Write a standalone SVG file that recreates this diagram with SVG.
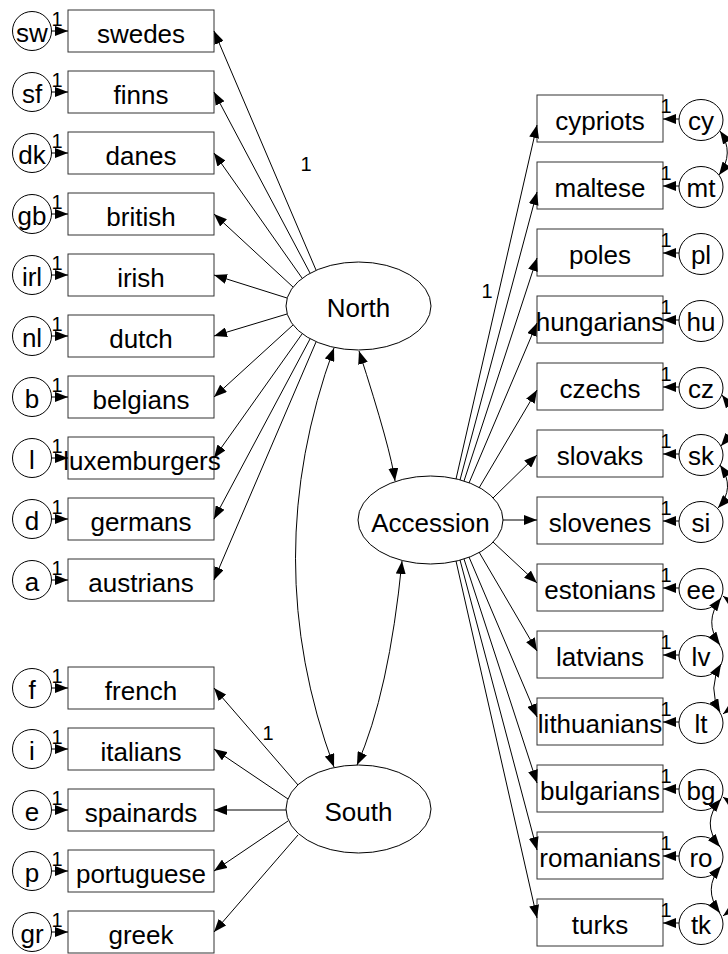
<svg xmlns="http://www.w3.org/2000/svg" width="728" height="954" viewBox="0 0 728 954">
<defs>
<marker id="ah" markerUnits="userSpaceOnUse" markerWidth="14" markerHeight="10" refX="13" refY="5" orient="auto-start-reverse" viewBox="0 0 14 10"><path d="M0,0 L13,5 L0,10 z" fill="#000"/></marker>
</defs>
<style>
.box{fill:#fff;stroke:#333;stroke-width:1}
.err{fill:#fff;stroke:#000;stroke-width:1}
.lat{fill:#fff;stroke:#000;stroke-width:1}
text{font-family:"Liberation Sans",Arial,sans-serif;fill:#000}
.t{font-size:26px;text-anchor:middle}
.n{font-size:20px;text-anchor:middle}
.c{fill:none;stroke:#000;stroke-width:1}
.a{marker-end:url(#ah)}
.b{marker-start:url(#ah);marker-end:url(#ah)}
</style>
<rect width="728" height="954" fill="#fff"/>

<g id="latents">
<g id="North"><ellipse class="lat" cx="358.5" cy="306" rx="72.5" ry="44"/><text class="t" x="358.5" y="317">North</text></g>
<g id="South"><ellipse class="lat" cx="358.5" cy="809" rx="72.5" ry="44"/><text class="t" x="358.5" y="821">South</text></g>
<g id="Accession"><ellipse class="lat" cx="430.5" cy="520" rx="72.5" ry="44"/><text class="t" x="430.5" y="532">Accession</text></g>
</g>

<g id="left-indicators">
<g id="swedes"><rect class="box" x="68" y="10" width="146" height="42"/><text class="t" x="141" y="43">swedes</text></g>
<g id="finns"><rect class="box" x="68" y="71" width="146" height="42"/><text class="t" x="141" y="104">finns</text></g>
<g id="danes"><rect class="box" x="68" y="132" width="146" height="42"/><text class="t" x="141" y="165">danes</text></g>
<g id="british"><rect class="box" x="68" y="193" width="146" height="42"/><text class="t" x="141" y="226">british</text></g>
<g id="irish"><rect class="box" x="68" y="254" width="146" height="42"/><text class="t" x="141" y="287">irish</text></g>
<g id="dutch"><rect class="box" x="68" y="315" width="146" height="42"/><text class="t" x="141" y="348">dutch</text></g>
<g id="belgians"><rect class="box" x="68" y="376" width="146" height="42"/><text class="t" x="141" y="409">belgians</text></g>
<g id="luxemburgers"><rect class="box" x="68" y="437" width="146" height="42"/><text class="t" x="142" y="470">luxemburgers</text></g>
<g id="germans"><rect class="box" x="68" y="498" width="146" height="42"/><text class="t" x="141" y="531">germans</text></g>
<g id="austrians"><rect class="box" x="68" y="559" width="146" height="42"/><text class="t" x="141" y="592">austrians</text></g>
<g id="french"><rect class="box" x="68" y="667" width="146" height="42"/><text class="t" x="141" y="700">french</text></g>
<g id="italians"><rect class="box" x="68" y="728" width="146" height="42"/><text class="t" x="141" y="761">italians</text></g>
<g id="spainards"><rect class="box" x="68" y="789" width="146" height="42"/><text class="t" x="141" y="822">spainards</text></g>
<g id="portuguese"><rect class="box" x="68" y="850" width="146" height="42"/><text class="t" x="141" y="883">portuguese</text></g>
<g id="greek"><rect class="box" x="68" y="911" width="146" height="42"/><text class="t" x="141" y="944">greek</text></g>
</g>

<g id="left-errors">
<g id="e-sw"><circle class="err" cx="32" cy="31" r="19.5"/><text class="t" x="32" y="42">sw</text></g>
<g id="e-sf"><circle class="err" cx="32" cy="92" r="19.5"/><text class="t" x="32" y="103">sf</text></g>
<g id="e-dk"><circle class="err" cx="32" cy="153" r="19.5"/><text class="t" x="32" y="164">dk</text></g>
<g id="e-gb"><circle class="err" cx="32" cy="214" r="19.5"/><text class="t" x="32" y="225">gb</text></g>
<g id="e-irl"><circle class="err" cx="32" cy="275" r="19.5"/><text class="t" x="32" y="286">irl</text></g>
<g id="e-nl"><circle class="err" cx="32" cy="336" r="19.5"/><text class="t" x="32" y="347">nl</text></g>
<g id="e-b"><circle class="err" cx="32" cy="397" r="19.5"/><text class="t" x="32" y="408">b</text></g>
<g id="e-l"><circle class="err" cx="32" cy="458" r="19.5"/><text class="t" x="32" y="469">l</text></g>
<g id="e-d"><circle class="err" cx="32" cy="519" r="19.5"/><text class="t" x="32" y="530">d</text></g>
<g id="e-a"><circle class="err" cx="32" cy="580" r="19.5"/><text class="t" x="32" y="591">a</text></g>
<g id="e-f"><circle class="err" cx="32" cy="688" r="19.5"/><text class="t" x="32" y="699">f</text></g>
<g id="e-i"><circle class="err" cx="32" cy="749" r="19.5"/><text class="t" x="32" y="760">i</text></g>
<g id="e-e"><circle class="err" cx="32" cy="810" r="19.5"/><text class="t" x="32" y="821">e</text></g>
<g id="e-p"><circle class="err" cx="32" cy="871" r="19.5"/><text class="t" x="32" y="882">p</text></g>
<g id="e-gr"><circle class="err" cx="32" cy="932" r="19.5"/><text class="t" x="32" y="943">gr</text></g>
</g>

<g id="right-indicators">
<g id="cypriots"><rect class="box" x="537" y="95" width="126" height="47"/><text class="t" x="600" y="130">cypriots</text></g>
<g id="maltese"><rect class="box" x="537" y="162" width="126" height="47"/><text class="t" x="600" y="197">maltese</text></g>
<g id="poles"><rect class="box" x="537" y="229" width="126" height="47"/><text class="t" x="600" y="264">poles</text></g>
<g id="hungarians"><rect class="box" x="537" y="296" width="126" height="47"/><text class="t" x="600" y="331">hungarians</text></g>
<g id="czechs"><rect class="box" x="537" y="363" width="126" height="47"/><text class="t" x="600" y="398">czechs</text></g>
<g id="slovaks"><rect class="box" x="537" y="430" width="126" height="47"/><text class="t" x="600" y="465">slovaks</text></g>
<g id="slovenes"><rect class="box" x="537" y="497" width="126" height="47"/><text class="t" x="600" y="532">slovenes</text></g>
<g id="estonians"><rect class="box" x="537" y="564" width="126" height="47"/><text class="t" x="600" y="599">estonians</text></g>
<g id="latvians"><rect class="box" x="537" y="631" width="126" height="47"/><text class="t" x="600" y="666">latvians</text></g>
<g id="lithuanians"><rect class="box" x="537" y="698" width="126" height="47"/><text class="t" x="600" y="733">lithuanians</text></g>
<g id="bulgarians"><rect class="box" x="537" y="765" width="126" height="47"/><text class="t" x="600" y="800">bulgarians</text></g>
<g id="romanians"><rect class="box" x="537" y="832" width="126" height="47"/><text class="t" x="600" y="867">romanians</text></g>
<g id="turks"><rect class="box" x="537" y="899" width="126" height="47"/><text class="t" x="600" y="934">turks</text></g>
</g>

<g id="right-errors">
<g id="e-cy"><ellipse class="err" cx="701" cy="120" rx="22" ry="20.5"/><text class="t" x="701" y="130">cy</text></g>
<g id="e-mt"><ellipse class="err" cx="701" cy="187" rx="22" ry="20.5"/><text class="t" x="701" y="197">mt</text></g>
<g id="e-pl"><ellipse class="err" cx="701" cy="254" rx="22" ry="20.5"/><text class="t" x="701" y="264">pl</text></g>
<g id="e-hu"><ellipse class="err" cx="701" cy="321" rx="22" ry="20.5"/><text class="t" x="701" y="331">hu</text></g>
<g id="e-cz"><ellipse class="err" cx="701" cy="388" rx="22" ry="20.5"/><text class="t" x="701" y="398">cz</text></g>
<g id="e-sk"><ellipse class="err" cx="701" cy="455" rx="22" ry="20.5"/><text class="t" x="701" y="465">sk</text></g>
<g id="e-si"><ellipse class="err" cx="701" cy="522" rx="22" ry="20.5"/><text class="t" x="701" y="532">si</text></g>
<g id="e-ee"><ellipse class="err" cx="701" cy="589" rx="22" ry="20.5"/><text class="t" x="701" y="599">ee</text></g>
<g id="e-lv"><ellipse class="err" cx="701" cy="656" rx="22" ry="20.5"/><text class="t" x="701" y="666">lv</text></g>
<g id="e-lt"><ellipse class="err" cx="701" cy="723" rx="22" ry="20.5"/><text class="t" x="701" y="733">lt</text></g>
<g id="e-bg"><ellipse class="err" cx="701" cy="790" rx="22" ry="20.5"/><text class="t" x="701" y="800">bg</text></g>
<g id="e-ro"><ellipse class="err" cx="701" cy="857" rx="22" ry="20.5"/><text class="t" x="701" y="867">ro</text></g>
<g id="e-tk"><ellipse class="err" cx="701" cy="924" rx="22" ry="20.5"/><text class="t" x="701" y="934">tk</text></g>
</g>

<g id="connectors" class="c">
<line class="a" x1="316" y1="270" x2="214" y2="31"/>
<line class="a" x1="310" y1="273" x2="214" y2="92"/>
<line class="a" x1="302" y1="278" x2="214" y2="153"/>
<line class="a" x1="293" y1="287" x2="214" y2="214"/>
<line class="a" x1="287" y1="298" x2="214" y2="275"/>
<line class="a" x1="287" y1="314" x2="214" y2="336"/>
<line class="a" x1="293" y1="325" x2="214" y2="397"/>
<line class="a" x1="302" y1="334" x2="214" y2="458"/>
<line class="a" x1="310" y1="339" x2="214" y2="519"/>
<line class="a" x1="316" y1="342" x2="214" y2="580"/>
<line class="a" x1="298" y1="785" x2="214" y2="688"/>
<line class="a" x1="288" y1="799" x2="214" y2="749"/>
<line class="a" x1="286" y1="810" x2="214" y2="810"/>
<line class="a" x1="288" y1="821" x2="214" y2="871"/>
<line class="a" x1="298" y1="835" x2="214" y2="932"/>
<line class="a" x1="456" y1="479" x2="537" y2="125"/>
<line class="a" x1="460" y1="480" x2="537" y2="192"/>
<line class="a" x1="464" y1="481" x2="537" y2="258"/>
<line class="a" x1="469" y1="483" x2="537" y2="323"/>
<line class="a" x1="479" y1="488" x2="537" y2="390"/>
<line class="a" x1="493" y1="498" x2="537" y2="455"/>
<line class="a" x1="503" y1="520" x2="537" y2="520"/>
<line class="a" x1="493" y1="542" x2="537" y2="583"/>
<line class="a" x1="479" y1="552" x2="537" y2="651"/>
<line class="a" x1="469" y1="557" x2="537" y2="717"/>
<line class="a" x1="464" y1="559" x2="537" y2="783"/>
<line class="a" x1="460" y1="560" x2="537" y2="850"/>
<line class="a" x1="456" y1="561" x2="537" y2="918"/>
<path class="b" d="M334,348 Q257,559 334,767"/>
<path class="b" d="M359,351 Q391,450 395,481"/>
<path class="b" d="M357,765 Q389,693 402,561"/>
<line class="a" x1="51.5" y1="31" x2="68" y2="31"/>
<line class="a" x1="51.5" y1="92" x2="68" y2="92"/>
<line class="a" x1="51.5" y1="153" x2="68" y2="153"/>
<line class="a" x1="51.5" y1="214" x2="68" y2="214"/>
<line class="a" x1="51.5" y1="275" x2="68" y2="275"/>
<line class="a" x1="51.5" y1="336" x2="68" y2="336"/>
<line class="a" x1="51.5" y1="397" x2="68" y2="397"/>
<line class="a" x1="51.5" y1="458" x2="68" y2="458"/>
<line class="a" x1="51.5" y1="519" x2="68" y2="519"/>
<line class="a" x1="51.5" y1="580" x2="68" y2="580"/>
<line class="a" x1="51.5" y1="688" x2="68" y2="688"/>
<line class="a" x1="51.5" y1="749" x2="68" y2="749"/>
<line class="a" x1="51.5" y1="810" x2="68" y2="810"/>
<line class="a" x1="51.5" y1="871" x2="68" y2="871"/>
<line class="a" x1="51.5" y1="932" x2="68" y2="932"/>
<line class="a" x1="679" y1="119" x2="663" y2="119"/>
<line class="a" x1="679" y1="186" x2="663" y2="186"/>
<line class="a" x1="679" y1="253" x2="663" y2="253"/>
<line class="a" x1="679" y1="320" x2="663" y2="320"/>
<line class="a" x1="679" y1="387" x2="663" y2="387"/>
<line class="a" x1="679" y1="454" x2="663" y2="454"/>
<line class="a" x1="679" y1="521" x2="663" y2="521"/>
<line class="a" x1="679" y1="588" x2="663" y2="588"/>
<line class="a" x1="679" y1="655" x2="663" y2="655"/>
<line class="a" x1="679" y1="722" x2="663" y2="722"/>
<line class="a" x1="679" y1="789" x2="663" y2="789"/>
<line class="a" x1="679" y1="856" x2="663" y2="856"/>
<line class="a" x1="679" y1="923" x2="663" y2="923"/>
<path class="b" d="M720,131 Q735,153 719,175"/>
<path class="b" d="M722,395 Q742,421 721,446"/>
<path class="b" d="M720,465 Q736,488 718,508"/>
<path class="b" d="M721,598 Q703,622 720,645"/>
<path class="b" d="M721,664 Q707,688 720,712"/>
<path class="b" d="M723,596 C748,615 748,695 723,714"/>
<path class="b" d="M721,799 Q700,823 720,847"/>
<path class="b" d="M721,866 Q702,889 720,913"/>
<path class="b" d="M723,797 C748,815 748,897 723,916"/>
</g>

<g id="labels">
<text class="n" x="306" y="171">1</text>
<text class="n" x="487" y="298">1</text>
<text class="n" x="268" y="740">1</text>
<text class="n" x="57" y="26">1</text>
<text class="n" x="57" y="87">1</text>
<text class="n" x="57" y="148">1</text>
<text class="n" x="57" y="209">1</text>
<text class="n" x="57" y="270">1</text>
<text class="n" x="57" y="331">1</text>
<text class="n" x="57" y="392">1</text>
<text class="n" x="57" y="453">1</text>
<text class="n" x="57" y="514">1</text>
<text class="n" x="57" y="575">1</text>
<text class="n" x="57" y="683">1</text>
<text class="n" x="57" y="744">1</text>
<text class="n" x="57" y="805">1</text>
<text class="n" x="57" y="866">1</text>
<text class="n" x="57" y="927">1</text>
<text class="n" x="666" y="113">1</text>
<text class="n" x="666" y="180">1</text>
<text class="n" x="666" y="247">1</text>
<text class="n" x="666" y="314">1</text>
<text class="n" x="666" y="381">1</text>
<text class="n" x="666" y="448">1</text>
<text class="n" x="666" y="515">1</text>
<text class="n" x="666" y="582">1</text>
<text class="n" x="666" y="649">1</text>
<text class="n" x="666" y="716">1</text>
<text class="n" x="666" y="783">1</text>
<text class="n" x="666" y="850">1</text>
<text class="n" x="666" y="917">1</text>
</g>
</svg>
